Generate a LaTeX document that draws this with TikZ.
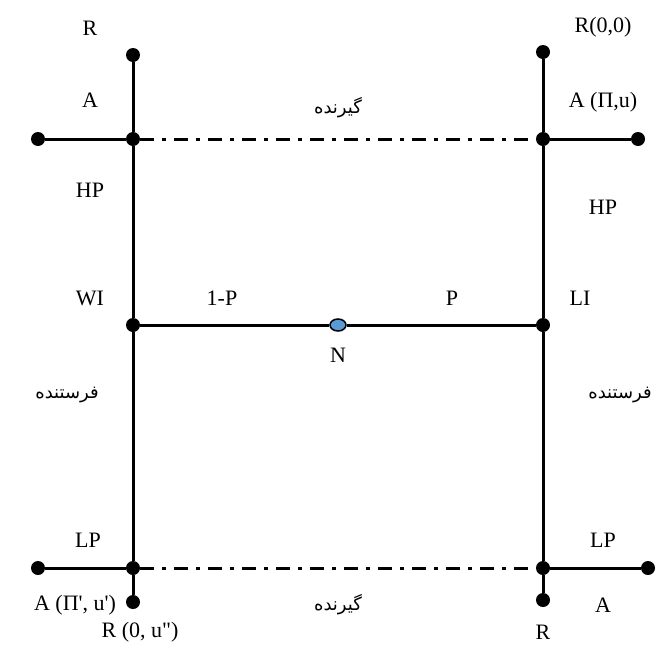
\documentclass[tikz,border=0pt]{standalone}
\usepackage{fontspec}
\usetikzlibrary{shapes.geometric}
\setmainfont{Liberation Serif}
\newfontfamily\arabicfont[Script=Arabic]{DejaVu Sans}
\TeXXeTstate=1
\definecolor{midblue}{RGB}{91,155,213}
\tikzset{
  dot/.style={circle,fill=black,inner sep=0pt,minimum size=14pt},
  lbl/.style={font=\fontsize{22}{26}\selectfont,inner sep=0pt},
  fa/.style={font=\arabicfont\fontsize{18}{21}\selectfont,inner sep=0pt},
  wire/.style={line width=3pt},
  dashdot/.style={line width=3pt,dash pattern=on 14pt off 8pt on 4pt off 8pt}
}
\begin{document}
\begin{tikzpicture}[x=1pt,y=-1pt]
	\useasboundingbox (0,0) rectangle (659,646);

	\node[dot] (ltop) at (133,55) {};
	\node[dot] (lhi) at (133,139) {};
	\node[dot] (lmid) at (133,325) {};
	\node[dot] (llo) at (133,568) {};
	\node[dot] (lbot) at (133,602) {};
	\node[dot] (lhiend) at (38,139) {};
	\node[dot] (lloend) at (38,568) {};

	\node[dot] (rtop) at (543,52) {};
	\node[dot] (rhi) at (543,139) {};
	\node[dot] (rmid) at (543,325) {};
	\node[dot] (rlo) at (543,568) {};
	\node[dot] (rbot) at (543,600) {};
	\node[dot] (rhiend) at (638,139) {};
	\node[dot] (rloend) at (648,568) {};

	\draw[wire] (ltop) -- (lhi) -- (lmid) -- (llo) -- (lbot);
	\draw[wire] (rtop) -- (rhi) -- (rmid) -- (rlo) -- (rbot);
	\draw[wire] (lhiend) -- (lhi);
	\draw[wire] (lloend) -- (llo);
	\draw[wire] (rhi) -- (rhiend);
	\draw[wire] (rlo) -- (rloend);
	\draw[dashdot] (lhi) -- (rhi);
	\draw[dashdot] (llo) -- (rlo);

	\node[ellipse,draw,line width=1.5pt,fill=midblue,minimum width=16pt,minimum height=12pt,inner sep=0pt] (n) at (338,325) {};
	\draw[wire] (lmid) -- (n) -- (rmid);

	\node[lbl] (rl) at (90,28) {R};
	\node[lbl] (al) at (90,100) {A};
	\node[lbl] (hpl) at (90,190) {HP};
	\node[lbl] (wi) at (90,298) {WI};
	\node[lbl] (lpl) at (88,540) {LP};
	\node[lbl] (apl) at (75,605) {A (Π\textquotesingle, u\textquotesingle)};
	\node[lbl] (rlb) at (140,632) {R (0, u\textquotedbl)};

	\node[lbl] (rr) at (603,27) {R(0,0)};
	\node[lbl] (ar) at (603,102) {A (Π,u)};
	\node[lbl] (hpr) at (603,207) {HP};
	\node[lbl] (li) at (580,298) {LI};
	\node[lbl] (lpr) at (603,540) {LP};
	\node[lbl] (arb) at (603,605) {A};
	\node[lbl] (rrb) at (543,632) {R};

	\node[lbl] (onep) at (222,298) {1-P};
	\node[lbl] (p) at (452,298) {P};
	\node[lbl] (nl) at (338,355) {N};

	\node[fa] (rectop) at (338,108) {\beginR گیرنده\endR};
	\node[fa] (recbot) at (338,605) {\beginR گیرنده\endR};
	\node[fa] (sendl) at (67,395) {\beginR فرستنده\endR};
	\node[fa] (sendr) at (620,395) {\beginR فرستنده\endR};
\end{tikzpicture}
\end{document}
